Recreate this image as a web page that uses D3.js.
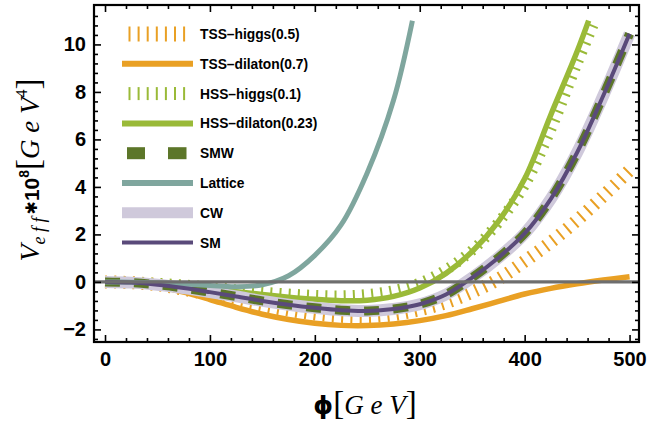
<!DOCTYPE html>
<html><head><meta charset="utf-8">
<script src="https://cdn.jsdelivr.net/npm/d3@7"></script>
<style>body{margin:0;background:#fff}</style>
</head><body>
<svg id="c" width="649" height="426"></svg>
<script>
// ---------- data ----------
const phiGrid = [0,25,50,75,100,125,150,175,200,225,250,275,300,325,350,375,400,425,450,475,500];
const smVals  = [0,-0.03,-0.12,-0.26,-0.43,-0.61,-0.8,-0.96,-1.09,-1.19,-1.22,-1.14,-0.94,-0.53,0.18,1.02,2.04,3.5,5.45,7.85,10.45];
const cwVals  = [0,-0.03,-0.12,-0.26,-0.43,-0.61,-0.8,-0.96,-1.09,-1.19,-1.22,-1.14,-0.94,-0.53,0.18,1.02,2.04,3.5,5.45,7.85,10.45];
const smwVals = [0,-0.03,-0.12,-0.26,-0.43,-0.61,-0.8,-0.96,-1.09,-1.19,-1.22,-1.14,-0.94,-0.53,0.18,1.02,2.04,3.5,5.45,7.85,10.45];
const tssDilatonVals = [0,-0.04,-0.18,-0.43,-0.74,-1.07,-1.36,-1.58,-1.74,-1.83,-1.84,-1.77,-1.63,-1.42,-1.13,-0.82,-0.51,-0.27,-0.08,0.08,0.22];
const tssHiggsVals   = [0,-0.03,-0.12,-0.31,-0.53,-0.77,-0.99,-1.19,-1.35,-1.45,-1.47,-1.38,-1.17,-0.87,-0.43,0.12,0.87,1.68,2.6,3.62,4.7];
const hssDilatonPhi  = [0,25,50,75,100,125,150,175,200,225,250,275,300,325,350,375,400,425,450,461];
const hssDilatonVals = [0,-0.02,-0.07,-0.16,-0.28,-0.41,-0.53,-0.64,-0.73,-0.79,-0.77,-0.61,-0.26,0.36,1.28,2.55,4.34,7.04,9.7,11.0];
const hssHiggsPhi    = [0,25,50,75,100,125,150,175,200,225,250,275,300,325,350,375,400,425,450,467];
const hssHiggsVals   = [0,-0.02,-0.06,-0.13,-0.22,-0.33,-0.43,-0.51,-0.57,-0.59,-0.53,-0.37,-0.05,0.51,1.33,2.5,4.08,6.43,9.2,11.0];
const latticePhi  = [0,25,50,75,100,125,150,175,200,225,250,275,293];
const latticeVals = [0,-0.01,-0.04,-0.09,-0.15,-0.2,-0.12,0.26,1.12,2.4,4.6,7.65,11.0];
const xTicks = [0,100,200,300,400,500];
const yTicks = [-2,0,2,4,6,8,10];
const legendLabels = ["TSS\u2013higgs(0.5)","TSS\u2013dilaton(0.7)","HSS\u2013higgs(0.1)","HSS\u2013dilaton(0.23)","SMW","Lattice","CW","SM"];

// ---------- styles ----------
const C = {orange:"#e9a024", green:"#9aba38", olive:"#5c7629", teal:"#7fa69e", cw:"#cfc9db", sm:"#5a4a7a", zero:"#6e6e6e"};

const svg = d3.select("#c");
const L=94, R=639, T=5, B=342;
const x = d3.scaleLinear().domain([-10.5, 509]).range([L, R]);
const y = d3.scaleLinear().domain([-2.53, 11.66]).range([B, T]);

svg.append("defs").append("clipPath").attr("id","clip")
  .append("rect").attr("x",L).attr("y",T).attr("width",R-L).attr("height",B-T);

const line = d3.line().x(d=>x(d[0])).y(d=>y(d[1])).curve(d3.curveCatmullRom.alpha(0.5));
const zip = (a,b)=>a.map((v,i)=>[v,b[i]]);

const series = [
  {name:"tssHiggs", pts:zip(phiGrid,tssHiggsVals), stroke:C.orange, w:13, dash:"2,7.2"},
  {name:"tssDil",   pts:zip(phiGrid,tssDilatonVals), stroke:C.orange, w:5.5},
  {name:"hssHiggs", pts:zip(hssHiggsPhi,hssHiggsVals), stroke:C.green, w:11, dash:"2,7.2"},
  {name:"hssDil",   pts:zip(hssDilatonPhi,hssDilatonVals), stroke:C.green, w:5.5},
  {name:"cw",       pts:zip(phiGrid,cwVals), stroke:C.cw, w:12},
  {name:"smw",      pts:zip(phiGrid,smwVals), stroke:C.olive, w:9, dash:"15,14"},
  {name:"lattice",  pts:zip(latticePhi,latticeVals), stroke:C.teal, w:5},
  {name:"sm",       pts:zip(phiGrid,smVals), stroke:C.sm, w:4},
];

const plot = svg.append("g").attr("clip-path","url(#clip)");
series.forEach(s=>{
  plot.append("path").attr("d", line(s.pts)).attr("fill","none")
    .attr("stroke", s.stroke).attr("stroke-width", s.w)
    .attr("stroke-dasharray", s.dash || null).attr("stroke-linecap","butt");
});
plot.append("line").attr("x1",L).attr("x2",R).attr("y1",y(0)).attr("y2",y(0))
  .attr("stroke",C.zero).attr("stroke-width",3.3);

// ---------- axes ----------
const fontTick = "'Liberation Sans', Arial, sans-serif";
function styleAxis(g){ g.select(".domain").remove(); g.selectAll("line").attr("stroke","#000").attr("stroke-width",1.6); }
const minorX = d3.range(0,510,20).filter(v=>v%100!==0);
const minorY = d3.range(-2.4,11.6,0.4).map(v=>+v.toFixed(1)).filter(v=>Math.abs(v/2-Math.round(v/2))>1e-6);

const gx = svg.append("g").attr("transform",`translate(0,${B})`)
  .call(d3.axisBottom(x).tickValues(xTicks).tickSize(-7).tickPadding(10).tickFormat(d3.format("d")));
styleAxis(gx);
gx.selectAll("text").attr("font-family",fontTick).attr("font-weight","bold").attr("font-size",20).attr("fill","#000");
svg.append("g").attr("transform",`translate(0,${B})`).call(d3.axisBottom(x).tickValues(minorX).tickSize(-4).tickFormat("")).call(styleAxis);
svg.append("g").attr("transform",`translate(0,${T})`).call(d3.axisTop(x).tickValues(xTicks).tickSize(-7).tickFormat("")).call(styleAxis);
svg.append("g").attr("transform",`translate(0,${T})`).call(d3.axisTop(x).tickValues(minorX).tickSize(-4).tickFormat("")).call(styleAxis);

const gy = svg.append("g").attr("transform",`translate(${L},0)`)
  .call(d3.axisLeft(y).tickValues(yTicks).tickSize(-7).tickPadding(8).tickFormat(d=>d<0?"\u2212"+(-d):d));
styleAxis(gy);
gy.selectAll("text").attr("font-family",fontTick).attr("font-weight","bold").attr("font-size",20).attr("fill","#000");
svg.append("g").attr("transform",`translate(${L},0)`).call(d3.axisLeft(y).tickValues(minorY).tickSize(-4).tickFormat("")).call(styleAxis);
svg.append("g").attr("transform",`translate(${R},0)`).call(d3.axisRight(y).tickValues(yTicks).tickSize(-7).tickFormat("")).call(styleAxis);
svg.append("g").attr("transform",`translate(${R},0)`).call(d3.axisRight(y).tickValues(minorY).tickSize(-4).tickFormat("")).call(styleAxis);

svg.append("rect").attr("x",L).attr("y",T).attr("width",R-L).attr("height",B-T)
  .attr("fill","none").attr("stroke","#000").attr("stroke-width",2.2);

// ---------- legend ----------
const lg = svg.append("g");
const lx0=122, lx1=193, ly0=34, ldy=29.8;
legendLabels.forEach((lab,i)=>{
  const yy = ly0 + i*ldy;
  const s = [series[0],series[1],series[2],series[3],series[5],series[6],series[4],series[7]][i];
  if (i===0 || i===2){
    const len = i===0?15:13;
    for(let k=0;k<7;k++){
      const xx = 129.5 + k*9.1;
      lg.append("line").attr("x1",xx).attr("x2",xx).attr("y1",yy-len/2).attr("y2",yy+len/2)
        .attr("stroke",s.stroke).attr("stroke-width",2);
    }
  } else if (i===4){
    [[127,145],[168,186.5]].forEach(p=>lg.append("rect").attr("x",p[0]).attr("y",yy-6).attr("width",p[1]-p[0]).attr("height",12).attr("fill",C.olive));
  } else {
    const w = i===6?11:(i===7?4:6);
    lg.append("line").attr("x1",lx0).attr("x2",lx1).attr("y1",yy).attr("y2",yy)
      .attr("stroke",s.stroke).attr("stroke-width",w);
  }
  lg.append("text").attr("x",200).attr("y",yy).attr("dy","0.36em").text(lab)
    .attr("font-family",fontTick).attr("font-weight","bold").attr("font-size",13.8).attr("fill","#000");
});

// ---------- axis titles ----------
const serif = "'Liberation Serif', 'Times New Roman', serif";
const yt = svg.append("text").attr("transform","translate(39,170) rotate(-90)").attr("text-anchor","middle")
  .attr("fill","#000").attr("font-family",serif);
yt.append("tspan").attr("font-style","italic").attr("font-size",28).text("V");
yt.append("tspan").attr("font-style","italic").attr("font-size",18).attr("dy",6).text("e f f");
yt.append("tspan").attr("font-family","'DejaVu Sans'").attr("font-weight","bold").attr("font-size",16).attr("dy",-8).attr("dx",3).text("\u2731");
yt.append("tspan").attr("font-family",fontTick).attr("font-weight","bold").attr("font-size",21).attr("dy",2).text("10");
yt.append("tspan").attr("font-family",fontTick).attr("font-weight","bold").attr("font-size",14).attr("dy",-10).text("8");
yt.append("tspan").attr("font-size",33).attr("dy",10).text("[");
yt.append("tspan").attr("font-style","italic").attr("font-size",27).text("G e V");
yt.append("tspan").attr("font-size",16).attr("dy",-12).text("4");
yt.append("tspan").attr("font-size",33).attr("dy",12).text("]");

const xt = svg.append("text").attr("x",365).attr("y",414).attr("text-anchor","middle")
  .attr("fill","#000").attr("font-family",serif);
xt.append("tspan").attr("font-family","'DejaVu Sans'").attr("font-weight","bold").attr("font-size",25).text("\u03d5");
xt.append("tspan").attr("font-size",33).text("[");
xt.append("tspan").attr("font-style","italic").attr("font-size",27).text("G e V");
xt.append("tspan").attr("font-size",33).text("]");
</script>
</body></html>
